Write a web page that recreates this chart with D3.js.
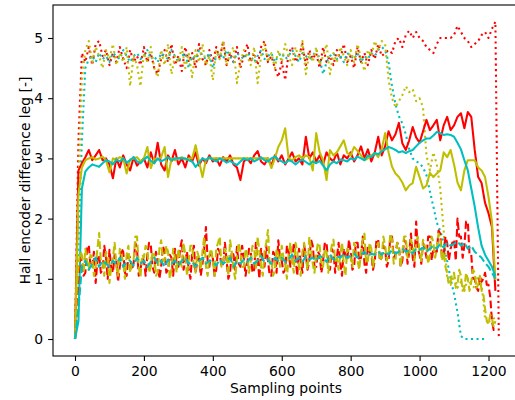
<!DOCTYPE html>
<html lang="en">
  <head>
    <meta charset="utf-8" />
    <title>Hall encoder difference</title>
    <script src="https://cdn.jsdelivr.net/npm/d3@7"></script>
    <style>
      body { margin: 0; background: #fff; }
      svg { display: block; font-family: "DejaVu Sans", sans-serif; }
    </style>
  </head>
  <body>
    <script>
      // values read every 10 sampling points (every 5 for the dashed legs)
      var redDotted = [
        0, 3.3, 4.75, 4.6, 4.85, 4.55, 4.9, 4.95, 4.7, 4.8,
        4.55, 4.75, 4.6, 4.85, 4.65, 4.5, 4.8, 4.6, 4.7, 4.55,
        4.85, 4.6, 4.75, 4.5, 4.4, 4.65, 4.8, 4.6, 4.9, 4.55,
        4.7, 4.45, 4.85, 4.6, 4.75, 4.5, 4.9, 4.65, 4.55, 4.8,
        4.6, 4.85, 4.65, 4.95, 4.55, 4.75, 4.6, 4.85, 4.5, 4.7,
        4.9, 4.6, 4.75, 4.55, 4.85, 4.95, 4.6, 4.7, 4.5, 4.35,
        4.6, 4.3, 4.75, 4.85, 4.6, 4.7, 4.9, 4.55, 4.8, 4.65,
        4.75, 4.5, 4.85, 4.6, 4.7, 4.55, 4.8, 4.65, 4.9, 4.6,
        4.7, 4.5, 4.85, 4.6, 4.75, 4.55, 4.8, 4.65, 4.9, 4.7,
        4.75, 4.8, 4.75, 4.95, 5.0, 4.85, 5.05, 5.12, 5.0, 5.1,
        5.0, 4.95, 4.85, 4.8, 4.75, 4.9, 5.0, 5.0, 5.0, 5.0,
        5.05, 5.2, 5.1, 5.0, 4.95, 4.85, 4.9, 4.95, 5.05, 5.1,
        5.0, 5.15, 5.27, 0
      ];
      var cyanDotted = [
        0, 1.6, 3.3, 4.5, 4.65, 4.7, 4.6, 4.75, 4.65, 4.7,
        4.6, 4.75, 4.7, 4.65, 4.8, 4.7, 4.6, 4.7, 4.75, 4.65,
        4.7, 4.8, 4.65, 4.7, 4.6, 4.75, 4.7, 4.65, 4.8, 4.7,
        4.6, 4.7, 4.75, 4.5, 4.7, 4.65, 4.8, 4.7, 4.65, 4.75,
        4.5, 4.7, 4.75, 4.65, 4.8, 4.7, 4.6, 4.75, 4.7, 4.65,
        4.75, 4.7, 4.6, 4.7, 4.8, 4.65, 4.7, 4.75, 4.6, 4.7,
        4.75, 4.65, 4.7, 4.8, 4.7, 4.6, 4.75, 4.7, 4.65, 4.7,
        4.8, 4.65, 4.4, 4.6, 4.7, 4.75, 4.65, 4.7, 4.6, 4.75,
        4.7, 4.65, 4.75, 4.6, 4.7, 4.65, 4.75, 4.7, 4.8, 4.85,
        4.8, 4.6, 4.2, 3.9, 3.7, 3.58, 3.4, 3.15, 3.0, 2.95,
        2.92, 2.85, 2.72, 2.45, 2.2, 1.93, 1.8, 1.6, 1.3, 1.0,
        0.75, 0.45, 0.05, 0, 0, 0, 0, 0, 0, 0
      ];
      var yellowDotted = [
        0, 2.5, 4.3, 4.8, 4.95, 4.6, 4.85, 4.7, 4.5, 4.8,
        4.65, 4.9, 4.55, 4.75, 4.6, 4.85, 4.2, 4.7, 4.55, 4.2,
        4.75, 4.6, 4.85, 4.5, 4.35, 4.8, 4.55, 4.9, 4.4, 4.7,
        4.6, 4.85, 4.5, 4.75, 4.35, 4.8, 4.6, 4.9, 4.55, 4.7,
        4.3, 4.8, 4.65, 4.95, 4.55, 4.75, 4.85, 4.25, 4.6, 4.8,
        4.7, 4.55, 4.85, 4.25, 4.7, 4.9, 4.6, 4.75, 4.5, 4.8,
        4.6, 4.9, 4.7, 4.55, 4.85, 4.65, 4.95, 4.4, 4.75, 4.6,
        4.85, 4.55, 4.7, 4.9, 4.4, 4.75, 4.6, 4.85, 4.7, 4.55,
        4.8, 4.6, 4.9, 4.65, 4.45, 4.8, 4.7, 4.95, 4.8, 4.95,
        4.9, 4.3, 4.0, 3.85, 3.95, 4.05, 4.2, 4.1, 4.15, 3.95,
        4.0, 3.85, 3.05, 2.8, 3.1, 2.9, 2.5, 1.8, 1.0, 0.9,
        1.05, 0.85, 0.95, 0.8, 1.0, 0.9, 0.85, 1.05, 0.9, 0.35,
        0.25, 0.4, 0.3
      ];
      var redSolid = [
        0, 2.8, 2.92, 3.02, 3.14, 2.97, 3.05, 3.14, 2.97, 3.0,
        2.9, 2.67, 3.0, 2.85, 3.05, 2.9, 2.8, 3.02, 2.88, 2.95,
        3.0, 2.85, 3.1, 2.92, 3.26, 2.9, 2.8, 3.05, 2.95, 3.14,
        2.9, 3.0, 2.85, 3.05, 2.95, 3.1, 2.88, 3.0, 2.92, 3.05,
        2.95, 3.0, 2.88, 3.02, 2.95, 3.05, 2.9, 2.85, 2.64, 2.95,
        3.0, 2.92, 3.05, 3.12, 2.95, 2.9, 3.0, 2.88, 3.05, 2.95,
        3.05, 2.9, 3.0, 3.1, 2.95, 3.0, 2.9, 3.36, 3.0, 3.1,
        2.95, 3.05, 2.9, 3.1, 3.0, 2.95, 3.1, 2.9, 3.05, 3.0,
        3.1, 2.95, 3.05, 3.2, 3.0, 3.15, 2.95, 3.1, 3.36, 3.05,
        3.2, 3.45, 3.3, 3.4, 3.59, 3.25, 3.14, 3.3, 3.52, 3.35,
        3.26, 3.45, 3.64, 3.47, 3.55, 3.64, 3.3, 3.55, 3.69, 3.47,
        3.55, 3.69, 3.75, 3.5, 3.77, 3.69, 3.14, 2.69, 2.59, 2.26,
        2.09, 1.86, 0.8
      ];
      var cyanSolid = [
        0, 0.3, 2.5, 2.78, 2.85, 2.9, 2.88, 2.86, 2.92, 2.97,
        2.95, 2.9, 2.98, 2.95, 3.0, 2.93, 2.97, 3.02, 2.95, 2.92,
        2.98, 3.03, 2.96, 2.92, 3.0, 2.95, 2.98, 3.02, 2.97, 3.0,
        3.0, 3.0, 3.0, 2.97, 2.95, 2.86, 2.93, 3.0, 2.97, 3.02,
        2.98, 2.95, 3.0, 2.97, 2.93, 2.96, 2.92, 2.89, 2.95, 3.0,
        2.97, 3.0, 2.95, 2.98, 3.02, 2.97, 2.95, 3.0, 3.03, 2.98,
        2.95, 2.92, 2.97, 2.95, 2.9, 2.95, 2.98, 2.94, 2.9, 2.95,
        2.92, 2.96, 2.88, 2.8, 2.9, 2.95, 2.92, 2.98, 2.97, 2.95,
        3.0, 2.98, 3.03, 3.0, 2.97, 3.05, 3.02, 3.09, 3.07, 3.12,
        3.15, 3.19, 3.17, 3.14, 3.1, 3.12, 3.09, 3.12, 3.14, 3.2,
        3.26, 3.3, 3.33, 3.33, 3.38, 3.44, 3.42, 3.39, 3.4, 3.39,
        3.36, 3.26, 3.15, 2.97, 2.8, 2.5, 2.2, 1.85, 1.55, 1.4,
        1.3, 1.2, 1.05
      ];
      var yellowSolid = [
        0, 2.4, 2.85, 2.97, 3.0, 3.02, 2.98, 3.0, 3.03, 2.97,
        2.77, 3.0, 2.98, 3.02, 3.0, 2.75, 2.98, 3.0, 3.02, 2.95,
        3.0, 3.19, 2.84, 3.0, 2.98, 3.02, 3.19, 2.69, 3.0, 2.97,
        3.0, 3.02, 2.98, 3.0, 3.0, 3.22, 2.95, 2.69, 2.98, 3.0,
        3.0, 3.0, 3.0, 3.0, 3.0, 3.0, 3.0, 3.0, 3.0, 3.0,
        3.0, 3.0, 3.0, 3.0, 3.0, 3.0, 3.0, 2.84, 3.0, 3.19,
        3.3, 3.5, 3.0, 2.97, 3.02, 3.05, 3.0, 3.05, 3.02, 2.8,
        3.42, 3.1, 2.97, 2.64, 3.14, 3.05, 3.1, 3.2, 3.3, 3.09,
        3.05, 3.19, 3.12, 3.05, 2.97, 3.0, 3.05, 3.09, 3.02, 3.15,
        3.42, 3.1, 2.86, 2.75, 2.69, 2.6, 2.47, 2.55, 2.59, 2.86,
        2.69, 2.5, 2.55, 2.76, 2.69, 2.75, 2.8, 3.1, 3.02, 3.14,
        2.9, 2.6, 2.47, 2.8, 2.97, 2.97, 2.97, 2.85, 2.8, 2.69,
        2.36, 1.95, 0.98
      ];
      var redDashed = [
        0, 0.6, 1.0, 1.35, 1.3, 1.05, 1.1, 1.5, 1.56, 1.2, 1.2, 1.45, 0.93, 1.3, 1.4, 1.1, 1.15, 1.55, 1.35, 1.0,
        1.48, 1.2, 1.1, 1.4, 1.3, 0.95, 1.2, 1.5, 1.45, 1.1, 1.05, 1.4, 1.35, 1.15, 1.25, 1.6, 1.5, 1.05, 1.15, 1.35,
        1.3, 1.05, 1.4, 1.6, 1.56, 1.2, 1.1, 1.45, 1.3, 1.0, 1.2, 1.55, 1.45, 1.1, 1.15, 1.4, 1.35, 1.05, 1.5, 1.25,
        1.2, 1.5, 1.64, 1.15, 1.3, 1.45, 1.15, 1.0, 1.4, 1.55, 1.1, 1.3, 1.35, 1.05, 1.25, 1.5, 1.86, 1.3, 1.2, 1.45,
        1.35, 1.05, 1.15, 1.5, 1.45, 1.2, 1.25, 1.6, 1.3, 1.0, 1.1, 1.45, 1.4, 1.15, 1.53, 1.25, 1.2, 1.55, 1.35, 1.05,
        1.25, 1.5, 1.45, 1.1, 1.15, 1.6, 1.35, 1.0, 1.5, 1.3, 1.2, 1.55, 1.3, 1.05, 1.05, 1.45, 1.4, 1.1, 1.64, 1.35,
        1.3, 1.1, 1.15, 1.55, 1.45, 1.2, 1.25, 1.6, 1.35, 1.05, 1.5, 1.3, 1.1, 1.55, 1.4, 1.15, 1.3, 1.65, 1.55, 1.2,
        1.2, 1.45, 1.4, 1.1, 1.3, 1.6, 1.6, 1.25, 1.15, 1.5, 1.45, 1.1, 1.35, 1.6, 1.25, 1.05, 1.5, 1.4, 1.3, 1.65,
        1.45, 1.15, 1.2, 1.6, 1.6, 1.3, 1.35, 1.7, 1.25, 1.1, 1.55, 1.45, 1.4, 1.15, 1.3, 1.65, 1.65, 1.3, 1.35, 1.55,
        1.5, 1.2, 1.3, 1.7, 1.7, 1.35, 1.4, 1.6, 1.55, 1.2, 1.3, 1.65, 1.6, 1.25, 1.45, 1.75, 1.35, 1.2, 1.95, 1.5,
        1.4, 1.25, 1.6, 1.5, 1.35, 1.7, 1.7, 1.3, 1.5, 1.45, 1.45, 1.8, 1.75, 1.35, 1.4, 1.7, 1.6, 1.3, 1.5, 1.6,
        1.65, 1.3, 2.0, 1.7, 1.7, 1.35, 1.55, 1.95, 1.95, 1.4, 1.4, 1.0, 1.0, 0.85, 0.8, 1.05, 0.95, 1.0, 1.1, 0.9,
        0.9, 0.7, 0.3, 0.15, 0.2
      ];
      var yellowDashed = [
        0, 0.8, 1.2, 1.45, 1.4, 1.1, 1.5, 1.3, 1.15, 1.4, 1.35, 1.05, 1.2, 1.5, 1.76, 1.3, 1.3, 1.05, 1.45, 1.35,
        0.93, 1.2, 1.35, 1.6, 1.2, 1.05, 1.5, 1.4, 1.25, 1.0, 1.4, 1.55, 1.1, 1.25, 1.3, 1.7, 1.7, 1.2, 1.03, 1.4,
        1.35, 1.55, 1.5, 1.1, 1.2, 1.45, 1.4, 1.05, 1.1, 1.5, 1.64, 1.3, 1.3, 1.55, 1.45, 1.0, 1.15, 1.5, 1.35, 1.1,
        1.5, 1.3, 1.2, 1.6, 1.4, 1.05, 1.3, 1.55, 1.55, 1.2, 1.1, 1.45, 1.35, 1.15, 1.45, 1.7, 1.2, 1.05, 1.4, 1.5,
        1.3, 1.05, 1.5, 1.6, 1.7, 1.2, 1.25, 1.5, 1.4, 1.05, 1.64, 1.45, 1.15, 1.0, 1.35, 1.6, 1.45, 1.2, 1.2, 1.5,
        1.4, 1.1, 1.3, 1.55, 1.5, 1.15, 1.7, 1.45, 1.2, 1.05, 1.45, 1.6, 1.81, 1.25, 1.3, 1.05, 1.15, 1.5, 1.4, 1.2,
        1.55, 1.35, 1.25, 1.0, 1.4, 1.6, 1.3, 1.1, 1.6, 1.45, 1.2, 1.05, 1.45, 1.6, 1.35, 1.15, 1.7, 1.5, 1.25, 1.1,
        1.4, 1.6, 1.55, 1.2, 1.2, 1.5, 1.45, 1.1, 1.3, 1.55, 1.65, 1.3, 1.35, 1.15, 1.4, 1.6, 1.25, 1.05, 1.5, 1.45,
        1.35, 1.2, 1.6, 1.5, 1.3, 1.15, 1.45, 1.65, 1.75, 1.25, 1.3, 1.6, 1.5, 1.2, 1.4, 1.55, 1.6, 1.3, 1.35, 1.7,
        1.55, 1.3, 1.4, 1.75, 1.65, 1.25, 1.3, 1.6, 1.5, 1.2, 1.45, 1.7, 1.7, 1.35, 1.4, 1.65, 1.55, 1.3, 1.6, 1.7,
        1.45, 1.3, 1.65, 1.55, 1.5, 1.25, 1.4, 1.7, 1.6, 1.35, 1.5, 1.75, 1.7, 1.3, 1.45, 1.2, 1.1, 0.9, 0.95, 1.1,
        1.1, 0.85, 0.9, 1.15, 1.05, 0.8, 0.85, 1.1, 1.0, 0.8, 0.95, 1.15, 1.1, 0.85, 0.9, 1.05, 0.8, 0.75, 0.5, 0.3,
        0.25, 0.4, 0.35, 0.2, 0.3
      ];
      var cyanDashed = [
        0, 0.5, 1.2, 1.3, 1.15, 1.25, 1.35, 1.2, 1.3, 1.25,
        1.2, 1.3, 1.25, 1.35, 1.2, 1.28, 1.3, 1.22, 1.35, 1.25,
        1.3, 1.2, 1.28, 1.35, 1.25, 1.3, 1.2, 1.32, 1.25, 1.3,
        1.22, 1.3, 1.35, 1.25, 1.28, 1.2, 1.3, 1.35, 1.25, 1.3,
        1.28, 1.22, 1.32, 1.25, 1.3, 1.35, 1.2, 1.3, 1.25, 1.32,
        1.28, 1.35, 1.25, 1.3, 1.38, 1.28, 1.32, 1.25, 1.35, 1.3,
        1.35, 1.28, 1.32, 1.4, 1.3, 1.35, 1.28, 1.38, 1.32, 1.35,
        1.3, 1.38, 1.35, 1.28, 1.4, 1.32, 1.38, 1.35, 1.42, 1.35,
        1.38, 1.42, 1.35, 1.4, 1.45, 1.38, 1.42, 1.4, 1.45, 1.4,
        1.45, 1.4, 1.48, 1.42, 1.45, 1.5, 1.45, 1.48, 1.42, 1.5,
        1.48, 1.52, 1.45, 1.5, 1.55, 1.5, 1.58, 1.52, 1.6, 1.55,
        1.58, 1.62, 1.55, 1.6, 1.5, 1.55, 1.45, 1.4, 1.35, 1.26,
        1.2, 1.1, 1.0
      ];

      var xTicks = [0, 200, 400, 600, 800, 1000, 1200];
      var yTicks = [0, 1, 2, 3, 4, 5];

      var red = "#ff0000",
        cyan = "#00bfbf",
        olive = "#bfbf00";
      var dotted = "2.08,3.44",
        dashed = "7.7,3.33";

      // drawing order as in the original plot
      var series = [
        { values: redDotted, step: 10, color: red, dash: dotted },
        { values: cyanDotted, step: 10, color: cyan, dash: dotted },
        { values: yellowDotted, step: 10, color: olive, dash: dotted },
        { values: redSolid, step: 10, color: red, dash: null },
        { values: yellowSolid, step: 10, color: olive, dash: null },
        { values: cyanSolid, step: 10, color: cyan, dash: null },
        { values: redDashed, step: 5, color: red, dash: dashed },
        { values: yellowDashed, step: 5, color: olive, dash: dashed },
        { values: cyanDashed, step: 10, color: cyan, dash: dashed },
      ];

      var width = 515,
        height = 400;
      var box = { left: 53, right: 517, top: 5, bottom: 356 };

      var x = d3.scaleLinear().domain([0, 1200]).range([75, 488.5]);
      var y = d3.scaleLinear().domain([0, 5]).range([339, 38]);

      var svg = d3
        .select("body")
        .append("svg")
        .attr("width", width)
        .attr("height", height);

      svg
        .selectAll(".series")
        .data(series)
        .enter()
        .append("path")
        .attr("class", "series")
        .attr("d", function (s) {
          return d3
            .line()
            .x(function (d, i) {
              return x(i * s.step);
            })
            .y(function (d) {
              return y(d);
            })(s.values);
        })
        .attr("fill", "none")
        .attr("stroke", function (s) {
          return s.color;
        })
        .attr("stroke-width", 2.08)
        .attr("stroke-linejoin", "round")
        .attr("stroke-linecap", "butt")
        .attr("stroke-dasharray", function (s) {
          return s.dash;
        });

      // axes frame
      svg
        .append("rect")
        .attr("x", box.left)
        .attr("y", box.top)
        .attr("width", box.right - box.left)
        .attr("height", box.bottom - box.top)
        .attr("fill", "none")
        .attr("stroke", "#000")
        .attr("stroke-width", 1.1);

      var xAxis = svg
        .append("g")
        .attr("transform", "translate(0," + box.bottom + ")")
        .call(
          d3
            .axisBottom(x)
            .tickValues(xTicks)
            .tickSize(4.9)
            .tickPadding(4.9)
            .tickFormat(d3.format("d"))
        );
      var yAxis = svg
        .append("g")
        .attr("transform", "translate(" + box.left + ",0)")
        .call(
          d3
            .axisLeft(y)
            .tickValues(yTicks)
            .tickSize(4.9)
            .tickPadding(4.9)
            .tickFormat(d3.format("d"))
        );

      [xAxis, yAxis].forEach(function (g) {
        g.select(".domain").remove();
        g.attr("font-family", "DejaVu Sans, sans-serif").attr("font-size", 13.9);
        g.selectAll(".tick line").attr("stroke", "#000").attr("stroke-width", 1.1);
        g.selectAll(".tick text").attr("fill", "#000");
      });

      svg
        .append("text")
        .attr("x", 286)
        .attr("y", 393)
        .attr("text-anchor", "middle")
        .attr("font-size", 13.9)
        .text("Sampling points");

      svg
        .append("text")
        .attr("transform", "translate(29.5," + (box.top + box.bottom) / 2 + ") rotate(-90)")
        .attr("text-anchor", "middle")
        .attr("font-size", 13.9)
        .text("Hall encoder difference leg [-]");
    </script>
  </body>
</html>
